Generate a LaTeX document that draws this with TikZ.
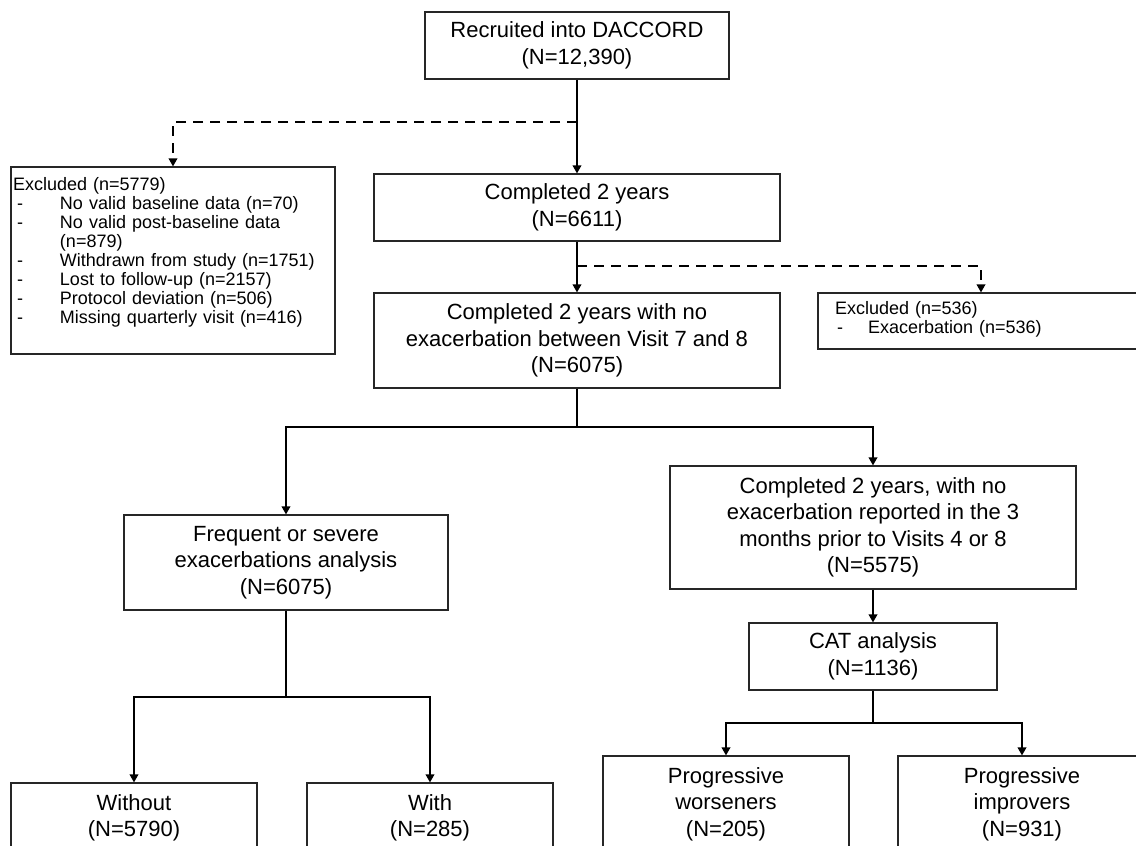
\documentclass[tikz,border=0pt]{standalone}
\usepackage{fontspec}
\setmainfont{Liberation Sans}
\usetikzlibrary{arrows.meta}
\newcommand{\exdashA}[1]{\hspace*{4pt}\makebox[43pt][l]{-}#1}
\newcommand{\exdashB}[1]{\hspace*{2pt}\makebox[31pt][l]{-}#1}
\begin{document}
\begin{tikzpicture}[x=1pt,y=-1pt,
  box/.style={draw=black!85, line width=1.1pt, align=center, inner sep=0pt,
    font=\fontsize{22}{26.5}\selectfont},
  exbox/.style={draw=black!85, line width=1.1pt, align=left, inner ysep=0pt,
    font=\fontsize{18}{19}\selectfont},
  conn/.style={line width=1.8pt, draw=black},
  arr/.style={conn, -{Triangle[length=8pt,width=8.5pt]}},
  dsh/.style={arr, dash pattern=on 10pt off 7pt}]
\useasboundingbox (0,0) rectangle (1136,846);
\clip (0,0) rectangle (1136,846);
\fill[white] (0,0) rectangle (1136,846);

% boxes
\node[box, minimum width=304pt, minimum height=67pt] (rec) at (577,45.5)
  {Recruited into DACCORD\\(N=12,390)};
\node[box, minimum width=406pt, minimum height=67pt] (c2) at (577,207.5)
  {Completed 2 years\\(N=6611)};
\node[box, minimum width=406pt, minimum height=95pt] (c2n) at (577,340.5)
  {Completed 2 years with no\\exacerbation between Visit 7 and 8\\(N=6075)};
\node[exbox, text width=320pt, inner xsep=2pt, minimum height=187pt] (ex1) at (173,260.5)
  {Excluded (n=5779)\\
   \exdashA{No valid baseline data (n=70)}\\
   \exdashA{No valid post-baseline data}\\
   \hspace*{47pt}(n=879)\\
   \exdashA{Withdrawn from study (n=1751)}\\
   \exdashA{Lost to follow-up (n=2157)}\\
   \exdashA{Protocol deviation (n=506)}\\
   \exdashA{Missing quarterly visit (n=416)}\rule[-20pt]{0pt}{1pt}};
\node[exbox, text width=292pt, inner xsep=17pt, minimum height=56pt] (ex2) at (981,321)
  {Excluded (n=536)\\
   \exdashB{Exacerbation (n=536)}\rule[-8pt]{0pt}{1pt}};
\node[box, minimum width=324pt, minimum height=95pt] (freq) at (286,562.5)
  {Frequent or severe\\exacerbations analysis\\(N=6075)};
\node[box, minimum width=406pt, minimum height=123pt] (c2r) at (873,527.5)
  {Completed 2 years, with no\\exacerbation reported in the 3\\months prior to Visits 4 or 8\\(N=5575)};
\node[box, minimum width=248pt, minimum height=67pt] (cat) at (873,656.5)
  {CAT analysis\\(N=1136)};
\node[box, minimum width=246pt, minimum height=70pt] (without) at (134,818)
  {Without\\(N=5790)};
\node[box, minimum width=246pt, minimum height=70pt] (with) at (430,818)
  {With\\(N=285)};
\node[box, minimum width=246pt, minimum height=96pt] (wors) at (726,804)
  {Progressive\\worseners\\(N=205)};
\node[box, minimum width=248pt, minimum height=96pt] (impr) at (1022,804)
  {Progressive\\improvers\\(N=931)};

% junctions
\coordinate (j1) at (577,122);
\coordinate (j2) at (577,266);
\coordinate (j3) at (577,427);
\coordinate (j4) at (286,697);
\coordinate (j5) at (873,723);

% connectors
\draw[arr] (rec) -- (c2);
\draw[dsh] (j1) -| (ex1.north);
\draw[arr] (c2) -- (c2n);
\draw[dsh] (j2) -| (ex2.north);
\draw[conn] (c2n.south) -- (j3);
\draw[arr] (j3) -| (freq.north);
\draw[arr] (j3) -| (c2r.north);
\draw[arr] (c2r) -- (cat);
\draw[conn] (freq.south) -- (j4);
\draw[arr] (j4) -| (without.north);
\draw[arr] (j4) -| (with.north);
\draw[conn] (cat.south) -- (j5);
\draw[arr] (j5) -| (wors.north);
\draw[arr] (j5) -| (impr.north);
\end{tikzpicture}
\end{document}
